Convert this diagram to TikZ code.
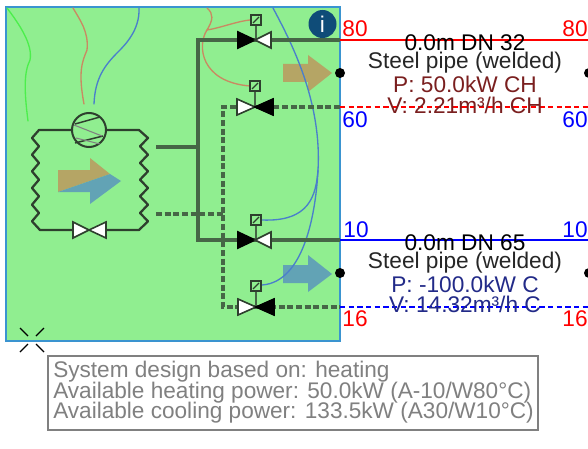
\documentclass[tikz,border=0pt]{standalone}
\usepackage{fontspec}
\setmainfont{Liberation Sans}
\definecolor{panelgreen}{HTML}{90EE90}
\definecolor{panelblue}{HTML}{3A94D0}
\definecolor{pipegray}{HTML}{466646}
\definecolor{coildark}{HTML}{2E3F2E}
\definecolor{tanarrow}{HTML}{B5A565}
\definecolor{bluearrow}{HTML}{62A3B5}
\definecolor{wireorange}{HTML}{C98A62}
\definecolor{wireblue}{HTML}{4A7FCB}
\definecolor{wiregreen}{HTML}{4CEE4C}
\definecolor{darkred}{HTML}{7A1F1F}
\definecolor{darknavy}{HTML}{222A88}
\definecolor{infonavy}{HTML}{0F4C78}
\definecolor{notegray}{HTML}{808080}
\tikzset{
 pipeline/.style={color=pipegray,line width=2.5pt,line cap=butt},
 pipedash/.style={color=pipegray,line width=2.5pt,dash pattern=on 4.5pt off 2pt},
 coil/.style={draw=coildark,line width=1.7pt,line join=round},
 wire/.style={line width=1pt,line cap=round},
 valvew/.style={draw=coildark,fill=white,line width=1.2pt,line join=miter},
 valveb/.style={draw=black,fill=black,line width=1.2pt},
 actbox/.style={draw=coildark,fill=none,line width=1.2pt},
 lab/.style={font=\fontsize{17}{17}\selectfont,inner sep=0pt,anchor=center},
 plab/.style={font=\fontsize{17}{17}\selectfont,inner sep=0pt,anchor=center},
 notetxt/.style={font=\fontsize{16.95}{17}\selectfont,text=notegray,inner sep=0pt,anchor=west},
 portdot/.style={circle,fill=black,inner sep=0pt,minimum size=7.5pt},
}
\newcommand{\valveLB}[2]{% black left, white right, centre x,y
 \draw[valveb] (#1-17,#2-8) -- (#1,#2) -- (#1-17,#2+8) -- cycle;
 \draw[valvew] (#1+16,#2-8) -- (#1,#2) -- (#1+16,#2+8) -- cycle;}
\newcommand{\valveLW}[2]{% white left, black right
 \draw[valvew] (#1-18,#2-8) -- (#1,#2) -- (#1-18,#2+8) -- cycle;
 \draw[valveb] (#1+18,#2-8) -- (#1,#2) -- (#1+18,#2+8) -- cycle;}
\newcommand{\actuator}[3]{% box x,y to valve y
 \draw[pipegray,line width=1.8pt] (#1,#2+5) -- (#1,#3);
 \draw[actbox] (#1-5,#2-5) rectangle (#1+5,#2+5);
 \draw[coildark,line width=.9pt] (#1-3,#2+3) -- (#1+3,#2-3);}
\begin{document}
\begin{tikzpicture}[x=0.75pt,y=-0.75pt]
\useasboundingbox (0,0) rectangle (588,449);
% panel
\draw[fill=panelgreen,draw=panelblue,line width=1.4pt] (6,7) rectangle (340,341);
% outside pipes
\draw[red,line width=1.3pt] (340,40) -- (588,40);
\draw[red,line width=1pt,dash pattern=on 4pt off 2.5pt] (340,107) -- (588,107);
\draw[blue,line width=1.3pt] (340,240) -- (588,240);
\draw[blue,line width=1pt,dash pattern=on 4pt off 2.5pt] (340,307) -- (588,307);
% big arrows
\fill[tanarrow] (283,64) -- (308,64) -- (308,55) -- (332,73) -- (308,92) -- (308,82) -- (283,82) -- cycle;
\fill[bluearrow] (283,265) -- (308,265) -- (308,255) -- (332,274) -- (308,292) -- (308,283) -- (283,283) -- cycle;
% unit arrow
\fill[tanarrow] (58,170) -- (90,170) -- (90,158) -- (110,174) -- (58,192) -- cycle;
\fill[bluearrow] (58,192) -- (110,174) -- (121,181) -- (90,204) -- (90,192) -- cycle;
% control wires
\draw[wire,draw=wiregreen] (7,8) .. controls (20,25) and (33,45) .. (30,60) .. controls (24,72) and (24,90) .. (28,121);
\draw[wire,draw=wireorange] (73,8) .. controls (80,20) and (89,32) .. (87,50) .. controls (82,62) and (78,72) .. (84,104);
\draw[wire,draw=wireblue] (139,8) .. controls (140,30) and (125,45) .. (118,52) .. controls (105,65) and (95,78) .. (94,104);
\draw[wire,draw=wireorange] (207,8) .. controls (214,14) and (213,20) .. (207,30) .. controls (220,28) and (238,21) .. (250,20);
\draw[wire,draw=wireorange] (207,30) .. controls (197,45) and (200,82) .. (250,86);
\draw[wire,draw=wireblue] (273,8) .. controls (290,40) and (322,100) .. (318,170) .. controls (316,195) and (310,222) .. (262,220);
\draw[wire,draw=wireblue] (318,170) .. controls (316,210) and (305,282) .. (262,285);
% inner pipes
\draw[pipeline] (156,147) -- (198,147);
\draw[pipedash] (156,214) -- (223,214);
\draw[pipeline] (340,40) -- (198,40) -- (198,240) -- (340,240);
\draw[pipedash] (340,107) -- (223,107) -- (223,307) -- (340,307);
% refrigerant circuit
\draw[coil] (72,130) -- (39,130) -- (32,138)
 -- (39,146.3) -- (32,154.7) -- (39,163) -- (32,171.3) -- (39,179.7) -- (32,188)
 -- (39,196.3) -- (32,204.7) -- (39,213) -- (32,221.3) -- (40,230) -- (72,230);
\draw[coil] (106,130) -- (139,130) -- (148,138)
 -- (140,146.3) -- (148,154.7) -- (140,163) -- (148,171.3) -- (140,179.7) -- (148,188)
 -- (140,196.3) -- (148,204.7) -- (140,213) -- (148,221.3) -- (139,230) -- (106,230);
% compressor
\node[circle,draw=coildark,line width=1.5pt,minimum size=25.5pt,inner sep=0pt] (comp) at (89,130) {};
\draw[coildark,line width=1.1pt] (75,124) -- (100,117) (75,143) -- (103,136);
\draw[gray,line width=.8pt] (74,125) -- (102,136) (76,138) -- (100,144);
% expansion valve
\draw[valvew] (73,222) -- (89,230) -- (73,238) -- cycle;
\draw[valvew] (106,222) -- (89,230) -- (106,238) -- cycle;
% actuated valves
\actuator{256}{20}{40}
\valveLB{255}{40}
\actuator{255}{86}{107}
\valveLW{255}{107}
\actuator{256}{220}{240}
\valveLB{255}{240}
\actuator{256}{286}{307}
\valveLW{256}{307}
% ports
\node[portdot] (p1) at (340,73) {};
\node[portdot] (p2) at (340,273) {};
\node[portdot] (p3) at (589,73) {};
\node[portdot] (p4) at (589,273) {};
% info
\node[circle,fill=infonavy,minimum size=21pt,inner sep=0pt,text=white,font=\fontsize{17}{17}\selectfont] (info) at (322.5,24) {i};
% temperature labels
\node[lab,text=red] (t1) at (355,29) {80};
\node[lab,text=red] (t2) at (575,29) {80};
\node[lab,text=blue] (t3) at (355,120) {60};
\node[lab,text=blue] (t4) at (575,120) {60};
\node[lab,text=blue] (t5) at (356,230) {10};
\node[lab,text=blue] (t6) at (575,230) {10};
\node[lab,text=red] (t7) at (355,319) {16};
\node[lab,text=red] (t8) at (575,319) {16};
% pipe labels
\node[plab,text=black] (a1) at (465,43) {0.0m DN 32};
\node[plab,text=black!85] (a2) at (465,63) {Steel pipe (welded)};
\node[plab,text=darkred] (a3) at (465,84) {P: 50.0kW CH};
\node[plab,text=darkred] (a4) at (465,105) {V: 2.21m³/h CH};
\node[plab,text=black] (b1) at (465,243) {0.0m DN 65};
\node[plab,text=black!85] (b2) at (465,263) {Steel pipe (welded)};
\node[plab,text=darknavy] (b3) at (465,284) {P: -100.0kW C};
\node[plab,text=darknavy] (b4) at (465,304) {V: 14.32m³/h C};
% cross mark
\draw[black,line width=1pt] (20,328) -- (28,336) (44,328) -- (36,336) (20,352) -- (28,344) (44,352) -- (36,344);
% note
\draw[draw=notegray,fill=white,line width=1pt] (48,356) rectangle (538,430);
\node[notetxt] (n1) at (53,372) {System design based on: heating};
\node[notetxt] (n2) at (53,393) {Available heating power: 50.0kW (A-10/W80°C)};
\node[notetxt] (n3) at (53,413) {Available cooling power: 133.5kW (A30/W10°C)};
\end{tikzpicture}
\end{document}
